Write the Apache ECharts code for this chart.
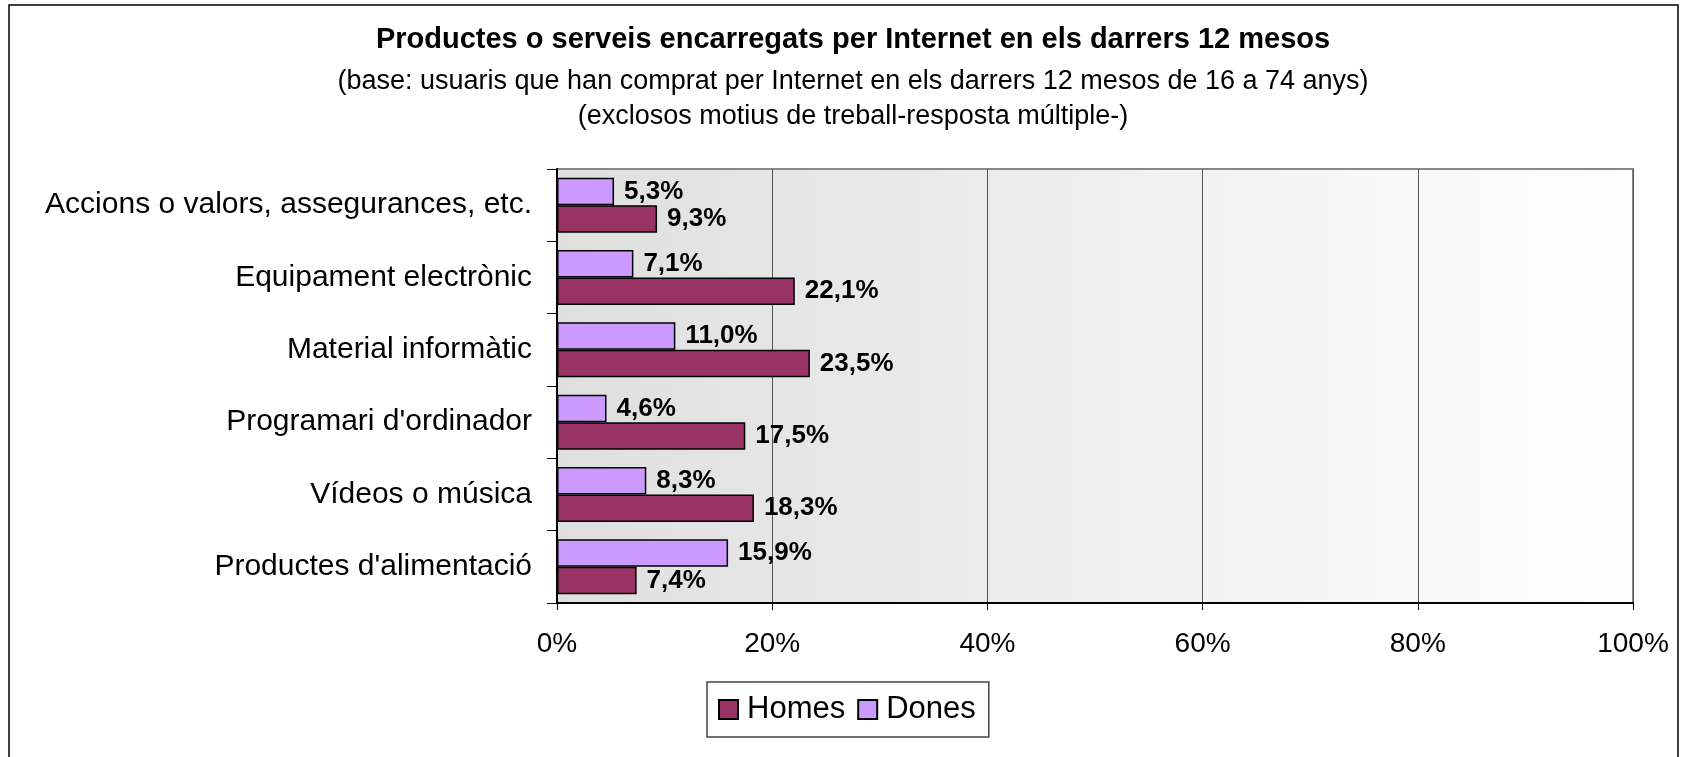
<!DOCTYPE html>
<html>
<head>
<meta charset="utf-8">
<script src="https://cdn.jsdelivr.net/npm/echarts@6/dist/echarts.min.js"></script>
<style>
html,body{margin:0;padding:0;background:#fff;}
#chart{width:1686px;height:757px;}
</style>
</head>
<body>
<div id="chart"></div>
<script>
const titleText = "Productes o serveis encarregats per Internet en els darrers 12 mesos";
const subtitle1 = "(base: usuaris que han comprat per Internet en els darrers 12 mesos de 16 a 74 anys)";
const subtitle2 = "(exclosos motius de treball-resposta múltiple-)";
const categories = ["Accions o valors, assegurances, etc.", "Equipament electrònic", "Material informàtic", "Programari d'ordinador", "Vídeos o música", "Productes d'alimentació"];
const homes = [9.3, 22.1, 23.5, 17.5, 18.3, 7.4];
const dones = [5.3, 7.1, 11.0, 4.6, 8.3, 15.9];
const xTicks = [0, 20, 40, 60, 80, 100];

const FONT = "'Liberation Sans', Arial, sans-serif";
const chart = echarts.init(document.getElementById('chart'), null, {renderer: 'canvas'});
const fmt = v => v.toFixed(1).replace('.', ',') + '%';
const labelCfg = {
  show: true, position: 'right', distance: 10,
  formatter: p => fmt(p.value),
  fontFamily: FONT, fontWeight: 'bold', fontSize: 26, color: '#000'
};
chart.setOption({
  animation: false,
  backgroundColor: '#fff',
  textStyle: {fontFamily: FONT},
  graphic: [
    {type: 'rect', shape: {x: 9, y: 5, width: 1669, height: 800}, style: {fill: 'none', stroke: '#000', lineWidth: 1.5}, z: -10},
    {type: 'text', x: 853, y: 40, style: {text: titleText, fontFamily: FONT, fontWeight: 'bold', fontSize: 29, fill: '#000', align: 'center', verticalAlign: 'middle'}},
    {type: 'text', x: 853, y: 82, style: {text: subtitle1, fontFamily: FONT, fontSize: 27, fill: '#000', align: 'center', verticalAlign: 'middle'}},
    {type: 'text', x: 853, y: 117, style: {text: subtitle2, fontFamily: FONT, fontSize: 27, fill: '#000', align: 'center', verticalAlign: 'middle'}}
  ],
  legend: {
    data: ['Homes', 'Dones'],
    left: 707, top: 682,
    padding: [12, 13, 12, 11],
    itemWidth: 19, itemHeight: 19, itemGap: 12,
    borderColor: '#444', borderWidth: 1.5,
    backgroundColor: '#fff',
    icon: 'rect',
    textStyle: {fontFamily: FONT, fontSize: 31, color: '#000', padding: [0, 0, 0, 4]}
  },
  grid: {
    left: 557, top: 169, right: 53, bottom: 154,
    show: true,
    borderColor: '#888', borderWidth: 2,
    backgroundColor: {type: 'linear', x: 0, y: 0, x2: 1, y2: 0, colorStops: [{offset: 0, color: '#dfdfdf'}, {offset: 1, color: '#ffffff'}]}
  },
  xAxis: {
    type: 'value', min: 0, max: 100, interval: 20,
    axisLine: {show: true, lineStyle: {color: '#000', width: 2}},
    axisTick: {show: true, length: 7, lineStyle: {color: '#000', width: 1}},
    splitLine: {show: true, lineStyle: {color: '#555', width: 1}},
    axisLabel: {formatter: v => xTicks.includes(v) ? v + '%' : '', fontFamily: FONT, fontSize: 28, color: '#000', margin: 27}
  },
  yAxis: {
    type: 'category', data: categories, inverse: true,
    axisLine: {show: true, lineStyle: {color: '#000', width: 2}},
    axisTick: {show: true, length: 10, lineStyle: {color: '#000', width: 1}},
    axisLabel: {fontFamily: FONT, fontSize: 30, color: '#000', margin: 25}
  },
  series: [
    {name: 'Dones', type: 'bar', data: dones, barGap: '0%', barCategoryGap: '24%',
     itemStyle: {color: '#CC99FF', borderColor: '#000', borderWidth: 1.5}, label: labelCfg, z: 3},
    {name: 'Homes', type: 'bar', data: homes, barGap: '0%', barCategoryGap: '24%',
     itemStyle: {color: '#993366', borderColor: '#000', borderWidth: 1.5}, label: labelCfg, z: 3}
  ]
});
</script>
</body>
</html>
